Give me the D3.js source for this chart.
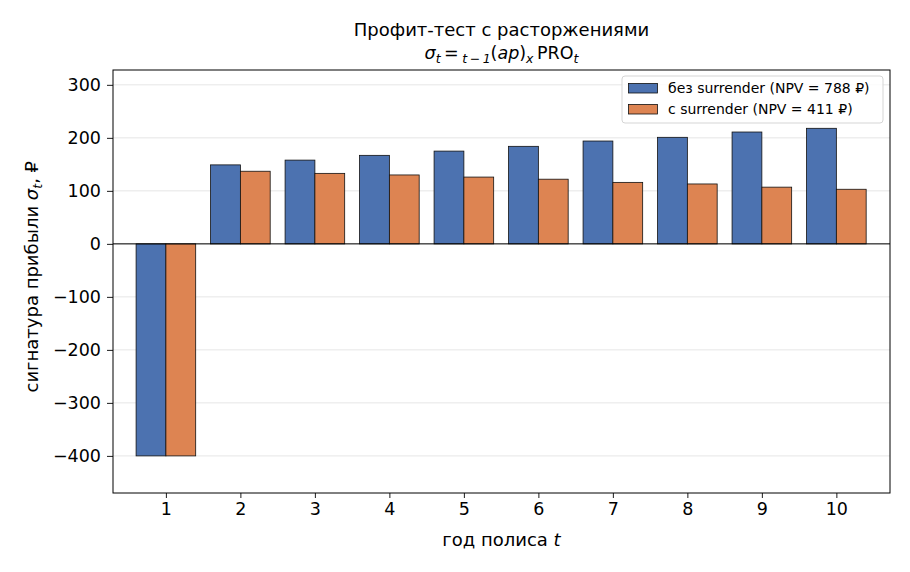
<!DOCTYPE html>
<html>
<head>
<meta charset="utf-8">
<script src="https://cdn.jsdelivr.net/npm/d3@7"></script>
<style>
  body { margin: 0; background: #fff; }
  svg text { font-family: "DejaVu Sans", sans-serif; }
</style>
</head>
<body>
<div id="chart"></div>
<script>
// data
var years = [1, 2, 3, 4, 5, 6, 7, 8, 9, 10]
var noSurrender = [-400, 149, 158, 167, 175, 184, 194, 201, 211, 218]
var withSurrender = [-400, 137, 133, 130, 126, 122, 116, 113, 107, 103]
var yTicks = [-400, -300, -200, -100, 0, 100, 200, 300]
var seriesNames = ['без surrender (NPV = 788 ₽)', 'с surrender (NPV = 411 ₽)']
var seriesColors = ['#4C72B0', '#DD8452']

var width = 910
var height = 572
var margin = { top: 70, right: 20, bottom: 79, left: 113 }
var fs = '17.5px'
var labelFs = '18px'

var svg = d3.select('#chart').append('svg')
    .attr('width', width)
    .attr('height', height)

var x = d3.scaleLinear()
    .domain([0.29, 10.72])
    .range([margin.left, width - margin.right])

var y = d3.scaleLinear()
    .domain([-470, 328])
    .range([height - margin.bottom, margin.top])

var barW = 0.4

// grid
svg.append('g')
    .selectAll('line')
    .data(yTicks)
    .join('line')
    .attr('x1', margin.left)
    .attr('x2', width - margin.right)
    .attr('y1', d => y(d))
    .attr('y2', d => y(d))
    .attr('stroke', '#e6e6e6')
    .attr('stroke-width', 1)

var series = [noSurrender, withSurrender]
series.forEach((vals, s) => {
    svg.append('g')
        .selectAll('rect')
        .data(vals.map((v, i) => ({ t: years[i], v: v })))
        .join('rect')
        .attr('x', d => x(d.t - barW + s * barW))
        .attr('width', d => x(d.t + barW) - x(d.t))
        .attr('y', d => y(Math.max(0, d.v)))
        .attr('height', d => Math.abs(y(d.v) - y(0)))
        .attr('fill', seriesColors[s])
        .attr('stroke', '#111')
        .attr('stroke-width', 0.8)
})

// zero line
svg.append('line')
    .attr('x1', margin.left)
    .attr('x2', width - margin.right)
    .attr('y1', y(0))
    .attr('y2', y(0))
    .attr('stroke', 'black')
    .attr('stroke-width', 1)

// axes
var xAxis = svg.append('g')
    .attr('transform', 'translate(0,' + (height - margin.bottom) + ')')
    .call(d3.axisBottom(x).tickValues(years).tickSize(5).tickPadding(5).tickFormat(d3.format('d')))
var yAxis = svg.append('g')
    .attr('transform', 'translate(' + margin.left + ',0)')
    .call(d3.axisLeft(y).tickValues(yTicks).tickSize(6).tickPadding(6)
        .tickFormat(d => d < 0 ? '\u2212' + Math.abs(d) : d))

;[xAxis, yAxis].forEach(a => {
    a.selectAll('.domain').remove()
    a.selectAll('text').attr('font-size', fs).attr('fill', 'black')
        .style('font-family', '"DejaVu Sans", sans-serif')
    a.selectAll('line').attr('stroke', 'black').attr('stroke-width', 0.9)
})

// frame
svg.append('rect')
    .attr('x', margin.left)
    .attr('y', margin.top)
    .attr('width', width - margin.right - margin.left)
    .attr('height', height - margin.bottom - margin.top)
    .attr('fill', 'none')
    .attr('stroke', 'black')
    .attr('stroke-width', 1)

// title
var cx = (margin.left + width - margin.right) / 2
svg.append('text')
    .attr('x', cx)
    .attr('y', 36)
    .attr('text-anchor', 'middle')
    .attr('font-size', labelFs)
    .text('Профит-тест с расторжениями')

var t2 = svg.append('text')
    .attr('x', cx)
    .attr('y', 59)
    .attr('text-anchor', 'middle')
    .attr('font-size', fs)
var parts = [
    { s: 'σ', it: true },
    { s: 't', it: true, sub: true },
    { s: '\u2009=\u2009' },
    { s: 't\u2009−\u20091', it: true, sub: true },
    { s: '(' },
    { s: 'ap', it: true },
    { s: ')' },
    { s: 'x', it: true, sub: true },
    { s: '\u2009PRO' },
    { s: 't', it: true, sub: true }
]
parts.forEach((p, i) => {
    var prev = parts[i - 1]
    var ts = t2.append('tspan').text(p.s)
    if (p.it) ts.attr('font-style', 'italic')
    if (p.sub) ts.attr('font-size', '12.5px')
    var dy = 0
    if (p.sub && !(prev && prev.sub)) dy = 4
    if (!p.sub && prev && prev.sub) dy = -4
    ts.attr('dy', dy)
})

// axis labels
svg.append('text')
    .attr('x', cx)
    .attr('y', 546)
    .attr('text-anchor', 'middle')
    .attr('font-size', labelFs)
    .call(t => {
        t.append('tspan').text('год полиса ')
        t.append('tspan').attr('font-style', 'italic').text('t')
    })

svg.append('text')
    .attr('transform', 'translate(38,' + y(-62) + ') rotate(-90)')
    .attr('text-anchor', 'middle')
    .attr('font-size', labelFs)
    .call(t => {
        t.append('tspan').text('сигнатура прибыли ')
        t.append('tspan').attr('font-style', 'italic').text('σ')
        t.append('tspan').attr('font-style', 'italic').attr('font-size', '12.5px').attr('dy', 4).text('t')
        t.append('tspan').attr('dy', -4).text(', ₽')
    })

// legend
var lg = svg.append('g').attr('transform', 'translate(622,76)')
lg.append('rect')
    .attr('width', 261)
    .attr('height', 47)
    .attr('rx', 3)
    .attr('fill', 'white')
    .attr('fill-opacity', 0.8)
    .attr('stroke', '#d5d5d5')
    .attr('stroke-width', 1)
seriesNames.forEach((name, i) => {
    lg.append('rect')
        .attr('x', 6.5)
        .attr('y', 7.5 + i * 21)
        .attr('width', 29)
        .attr('height', 9.5)
        .attr('fill', seriesColors[i])
        .attr('stroke', '#111')
        .attr('stroke-width', 0.8)
    lg.append('text')
        .attr('x', 46)
        .attr('y', 17 + i * 21)
        .attr('font-size', '14px')
        .text(name)
})
</script>
</body>
</html>
